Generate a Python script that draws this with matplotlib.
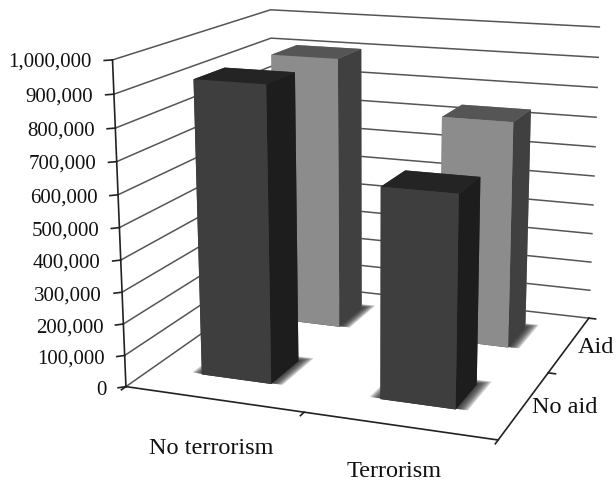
import numpy as np
import matplotlib
matplotlib.use("Agg")
import matplotlib.pyplot as plt

# Fonts
plt.rcParams['font.family'] = ['Liberation Serif', 'DejaVu Serif']

# Data
terror_labels = ["No terrorism", "Terrorism"]
aid_labels = ["No aid", "Aid"]
no_aid_values = [925000, 650000]
aid_values = [910000, 745000]
z_ticks = list(range(0, 1000001, 100000))
z_tick_labels = ["{:,}".format(v) for v in z_ticks]

# Face colours: bottom, top, front, back, left, right
dark_faces = ["#222222", "#242424", "#3e3e3e", "#3e3e3e", "#3e3e3e", "#1d1d1d"]
light_faces = ["#444444", "#555555", "#8c8c8c", "#8c8c8c", "#8c8c8c", "#404040"]

fig = plt.figure(figsize=(6.16, 4.81), dpi=100)
ax = fig.add_axes([69.6 / 616, -21.9 / 481, 587.5 / 616, 587.5 / 481], projection='3d', computed_zorder=False)
ax.set_proj_type('persp', focal_length=0.505)
ax.view_init(elev=14.6, azim=-69.6)
ax.set_box_aspect((372, 356, 318))
ax.set_xlim(0, 2)
ax.set_ylim(0, 2)
ax.set_zlim(0, 1000000)
ax.set_axis_off()

line_col = "#555555"
edge_col = "#222222"
# Side and back wall gridlines
for z in z_ticks:
    ax.plot([0, 0, 2], [0, 2, 2], [z, z, z], color=line_col, lw=1.1, zorder=1)
ax.plot([0, 0], [0, 0], [0, 1000000], color=edge_col, lw=1.2, zorder=1)

# Floor edges and ticks
ax.plot([0, 2, 2], [0, 0, 2], [0, 0, 0], color=edge_col, lw=1.2, zorder=1)
for z, lab in zip(z_ticks, z_tick_labels):
    ax.plot([0, -0.03], [0, -0.03], [z, z], color=edge_col, lw=1.2, zorder=1)
    ax.text(-0.075, -0.075, z, lab, ha='right', va='center', fontsize=15, color="#111111")
for x in [0, 1, 2]:
    ax.plot([x, x], [0, -0.05], [0, 0], color=edge_col, lw=1.2, zorder=1)
for y in [1, 2]:
    ax.plot([2, 2.04], [y, y], [0, 0], color=edge_col, lw=1.2, zorder=1)

bar_x = [0.29, 1.295]
bar_w = 0.40
bar_d = 0.38
front_y = 0.31
back_y = 1.32
# Soft shadows on the floor, spreading sideways and backwards from each base
for x0 in bar_x:
    for y0 in [back_y, front_y]:
        for grow in [0.06, 0.05, 0.04, 0.03, 0.02, 0.01]:
            ax.bar3d(x0 - grow, y0 + 0.01, 0, bar_w + 2 * grow, bar_d + grow, 1,
                     color="#222222", alpha=0.13, shade=False, zorder=1.5)

# Bars, back row first
for x0, v in zip(bar_x, aid_values):
    ax.bar3d(x0, back_y, 0, bar_w, bar_d, v, color=light_faces, shade=False, zorder=2)
for x0, v in zip(bar_x, no_aid_values):
    ax.bar3d(x0, front_y, 0, bar_w, bar_d, v, color=dark_faces, shade=False, zorder=3)

# Category labels
for lab, lx, ly in zip(terror_labels, [0.76, 1.653], [-0.58, -0.53]):
    ax.text(lx, ly, 0, lab, ha='center', va='center', fontsize=17.5, color="#111111")
for lab, lx, ly in zip(aid_labels, [2.196, 2.145], [0.548, 1.516]):
    ax.text(lx, ly, 0, lab, ha='center', va='center', fontsize=17.5, color="#111111")

plt.savefig("out.png", dpi=100)
